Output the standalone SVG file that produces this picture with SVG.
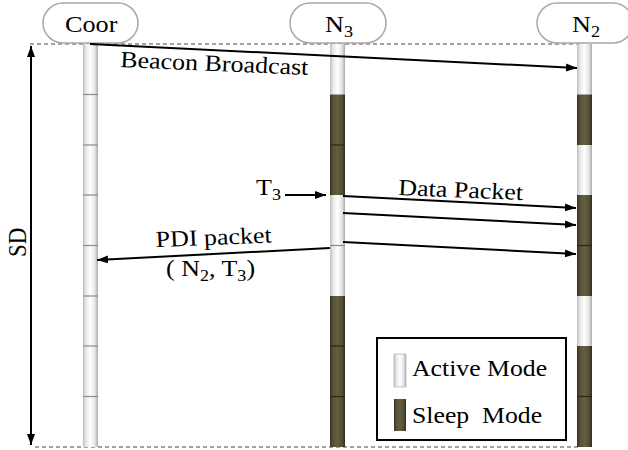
<svg xmlns="http://www.w3.org/2000/svg" width="628" height="450" viewBox="0 0 628 450">
<defs>
<linearGradient id="ga" x1="0" y1="0" x2="1" y2="0">
<stop offset="0" stop-color="#bdbdbd"/><stop offset="0.2" stop-color="#e8e8e8"/><stop offset="0.5" stop-color="#ffffff"/><stop offset="0.8" stop-color="#e4e4e4"/><stop offset="1" stop-color="#a9a9a9"/>
</linearGradient>
<linearGradient id="gs" x1="0" y1="0" x2="1" y2="0">
<stop offset="0" stop-color="#36321c"/><stop offset="0.2" stop-color="#56513a"/><stop offset="0.5" stop-color="#645e40"/><stop offset="0.8" stop-color="#534e36"/><stop offset="1" stop-color="#302c18"/>
</linearGradient>
<marker id="ah" markerUnits="userSpaceOnUse" markerWidth="12" markerHeight="10" refX="11" refY="4" orient="auto-start-reverse">
<path d="M0,0 L11,4 L0,8 Z" fill="#000"/>
</marker>
</defs>
<style>
.t{font-family:"Liberation Serif","Times New Roman",serif;font-size:23px;fill:#000}
.s{font-size:16px}
.A{fill:url(#ga)}
.S{fill:url(#gs)}
.bA{stroke:#8a8a8a;stroke-width:1.2}
.bS{stroke:#2a2614;stroke-width:1.2}
.pill{fill:#fff;stroke:#a8a8a8;stroke-width:1.5}
.dash{stroke:#444;stroke-width:1;stroke-dasharray:4 3;fill:none}
.c{stroke:#000;stroke-width:2;fill:none}
</style>

<g id="guides">
<line class="dash" x1="30" y1="44" x2="584" y2="44"/>
<line class="dash" x1="35" y1="447" x2="580" y2="447"/>
</g>

<g id="coor">
<rect class="A" x="83" y="44" width="15" height="403"/>
<line class="bA" x1="83" y1="94.5" x2="98" y2="94.5"/>
<line class="bA" x1="83" y1="145" x2="98" y2="145"/>
<line class="bA" x1="83" y1="195" x2="98" y2="195"/>
<line class="bA" x1="83" y1="245.5" x2="98" y2="245.5"/>
<line class="bA" x1="83" y1="296" x2="98" y2="296"/>
<line class="bA" x1="83" y1="346" x2="98" y2="346"/>
<line class="bA" x1="83" y1="396.5" x2="98" y2="396.5"/>
<rect class="pill" x="43" y="3" width="95" height="40" rx="20"/>
<text class="t" transform="translate(65,32) scale(1.14,1)">Coor</text>
</g>

<g id="n3">
<rect class="A" x="330" y="44" width="15" height="50.5"/>
<rect class="S" x="330" y="94.5" width="15" height="100.5"/>
<rect class="A" x="330" y="195" width="15" height="101"/>
<rect class="S" x="330" y="296" width="15" height="151"/>
<line class="bS" x1="330" y1="145" x2="345" y2="145"/>
<line class="bA" x1="330" y1="245.5" x2="345" y2="245.5"/>
<line class="bS" x1="330" y1="346" x2="345" y2="346"/>
<line class="bS" x1="330" y1="396.5" x2="345" y2="396.5"/>
<rect class="pill" x="290" y="3" width="96" height="40" rx="20"/>
<text class="t" transform="translate(325,32) scale(1.14,1)">N<tspan class="s" dy="5">3</tspan></text>
</g>

<g id="n2">
<rect class="A" x="577" y="44" width="15" height="50.5"/>
<rect class="S" x="577" y="94.5" width="15" height="50.5"/>
<rect class="A" x="577" y="145" width="15" height="50"/>
<rect class="S" x="577" y="195" width="15" height="101"/>
<rect class="A" x="577" y="296" width="15" height="50"/>
<rect class="S" x="577" y="346" width="15" height="101"/>
<line class="bS" x1="577" y1="245.5" x2="592" y2="245.5"/>
<line class="bS" x1="577" y1="396.5" x2="592" y2="396.5"/>
<rect class="pill" x="537" y="3" width="96" height="40" rx="20"/>
<text class="t" transform="translate(572,32) scale(1.14,1)">N<tspan class="s" dy="5">2</tspan></text>
</g>

<g id="connectors">
<line class="c" x1="90" y1="44" x2="577" y2="68" marker-end="url(#ah)"/>
<line class="c" x1="285" y1="195" x2="326" y2="195" marker-end="url(#ah)"/>
<line class="c" x1="343" y1="196" x2="576" y2="208" marker-end="url(#ah)"/>
<line class="c" x1="343" y1="213" x2="576" y2="225" marker-end="url(#ah)"/>
<line class="c" x1="343" y1="242" x2="576" y2="254" marker-end="url(#ah)"/>
<line class="c" x1="330" y1="248" x2="97" y2="260" marker-end="url(#ah)"/>
<line class="c" x1="31" y1="445" x2="31" y2="46" marker-end="url(#ah)" marker-start="url(#ah)"/>
</g>

<g id="labels">
<text class="t" transform="translate(120,67) scale(1.13,1) rotate(2.7)">Beacon Broadcast</text>
<text class="t" transform="translate(398,195) scale(1.13,1) rotate(2.6)">Data Packet</text>
<text class="t" transform="translate(156,247) scale(1.13,1) rotate(-2.5)">PDI packet</text>
<text class="t" transform="translate(166,276) scale(1.13,1)">( N<tspan class="s" dy="5">2</tspan><tspan dy="-5">, T</tspan><tspan class="s" dy="5">3</tspan><tspan dy="-5">)</tspan></text>
<text class="t" transform="translate(256,195) scale(1.13,1)">T<tspan class="s" dy="5">3</tspan></text>
<text class="t" transform="translate(26,257) scale(1.13,1) rotate(-90)">SD</text>
</g>

<g id="legend">
<rect x="377" y="338" width="189" height="102" fill="#fff" stroke="#000" stroke-width="2"/>
<rect class="A" x="394" y="354" width="12" height="33" stroke="#bbb" stroke-width="0.8"/>
<rect class="S" x="394" y="399" width="12" height="32"/>
<text class="t" transform="translate(412,376) scale(1.12,1)">Active Mode</text>
<text class="t" transform="translate(412,423) scale(1.12,1)" style="white-space:pre">Sleep  Mode</text>
</g>
</svg>
